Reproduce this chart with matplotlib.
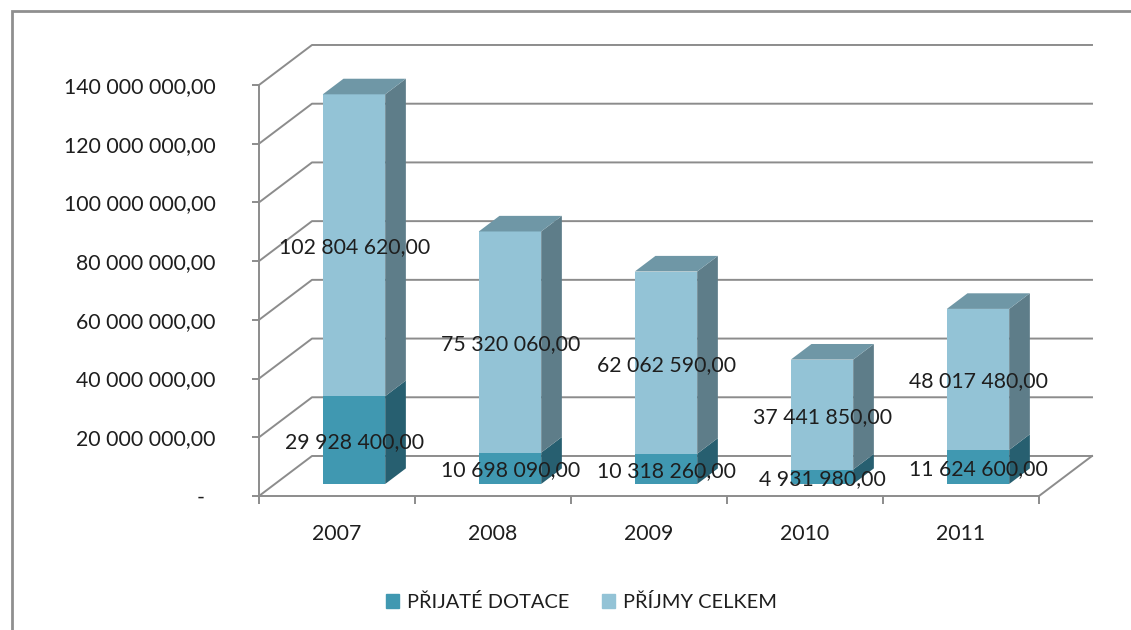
import matplotlib
matplotlib.use('Agg')
import matplotlib.pyplot as plt
from matplotlib.patches import Patch, Rectangle

plt.rcParams['font.family'] = ['Lato', 'DejaVu Sans']

years = ['2007', '2008', '2009', '2010', '2011']
dotace = [29928400, 10698090, 10318260, 4931980, 11624600]
prijmy = [102804620, 75320060, 62062590, 37441850, 48017480]
dotace_labels = ['29 928 400,00', '10 698 090,00', '10 318 260,00', '4 931 980,00', '11 624 600,00']
prijmy_labels = ['102 804 620,00', '75 320 060,00', '62 062 590,00', '37 441 850,00', '48 017 480,00']
yticks = [0, 20000000, 40000000, 60000000, 80000000, 100000000, 120000000, 140000000]
ytick_labels = ['-  ', '20 000 000,00', '40 000 000,00', '60 000 000,00', '80 000 000,00',
                '100 000 000,00', '120 000 000,00', '140 000 000,00']

W, H = 1131, 630
grid_col = '#8c8c8c'
text_col = '#1e1e1e'
fs = 15.3

# fake 3d: depth 0 = front plane, depth 1 = back wall
DX = 53 / 156.0       # categories per unit of depth
DY = 40 / 2.935e-6    # value per unit of depth
BAR_HALF = 0.2
D0, D1 = 0.3, 0.69


def proj(x, y, d):
    return x + d * DX, y + d * DY


def poly(ax, pts, color, z):
    xs = [p[0] for p in pts]
    ys = [p[1] for p in pts]
    ax.fill(xs, ys, color=color, lw=0, zorder=z, clip_on=False)


def box(ax, xc, y0, y1, front, side, top, z):
    xl, xr = xc - BAR_HALF, xc + BAR_HALF
    poly(ax, [proj(xr, y0, D0), proj(xr, y0, D1), proj(xr, y1, D1), proj(xr, y1, D0)], side, z)
    poly(ax, [proj(xl, y0, D0), proj(xr, y0, D0), proj(xr, y1, D0), proj(xl, y1, D0)], front, z)
    if top is not None:
        poly(ax, [proj(xl, y1, D0), proj(xr, y1, D0), proj(xr, y1, D1), proj(xl, y1, D1)], top, z)


def value_label(ax, x, y, s):
    ax.annotate(s, (x, y), xytext=(0.5, -1.5), textcoords='offset points', ha='center', va='center',
                fontsize=fs, color=text_col, zorder=5)


fig = plt.figure(figsize=(W / 100, H / 100), dpi=100, facecolor='white')
ax = fig.add_axes([259 / W, (H - 496) / H, 780 / W, 411 / H])
ax.set_xlim(0, len(years))
ax.set_ylim(0, 140000000)
ax.patch.set_visible(False)

# walls
for y in yticks:
    xb, yb = proj(0, y, 1)
    xe, ye = proj(len(years), y, 1)
    ax.plot([0, xb, xe], [y, yb, ye], color=grid_col, lw=1.4, zorder=1, clip_on=False)
xe, ye = proj(len(years), 0, 1)
ax.plot([len(years), xe], [0, ye], color=grid_col, lw=1.4, zorder=1, clip_on=False)

for i in range(len(years)):
    xc = i + 0.507
    box(ax, xc, 0, dotace[i], '#4098b1', '#275f70', None, 3)
    box(ax, xc, dotace[i], dotace[i] + prijmy[i], '#93c3d6', '#5e7d89', '#6f97a6', 3)
    lx, ly = proj(xc, dotace[i] / 2, D0)
    value_label(ax, lx, ly, dotace_labels[i])
    lx, ly = proj(xc, dotace[i] + prijmy[i] / 2, D0)
    value_label(ax, lx, ly, prijmy_labels[i])

# axes
for s in ['top', 'right']:
    ax.spines[s].set_visible(False)
for s in ['left', 'bottom']:
    ax.spines[s].set_color(grid_col)
    ax.spines[s].set_linewidth(1.4)
    ax.spines[s].set_zorder(2)
ax.set_yticks(yticks)
ax.set_yticklabels(ytick_labels, fontsize=fs, color=text_col)
ax.tick_params(axis='y', length=5, width=1.4, color=grid_col, pad=26)
ax.set_xticks(range(len(years) + 1))
ax.set_xticklabels([])
ax.tick_params(axis='x', which='major', length=6, width=1.4, color=grid_col)
ax.set_xticks([i + 0.5 for i in range(len(years))], minor=True)
ax.set_xticklabels(years, minor=True, fontsize=fs, color=text_col)
ax.tick_params(axis='x', which='minor', length=0, pad=20.5)

handles = [Patch(color='#4098b1', label='PŘIJATÉ DOTACE'), Patch(color='#93c3d6', label='PŘÍJMY CELKEM')]
fig.legend(handles=handles, loc='center', bbox_to_anchor=(581.5 / W, (H - 602) / H), ncols=2, frameon=False,
           fontsize=14.4, labelcolor=text_col, handlelength=0.66, handleheight=0.66, handletextpad=0.4,
           columnspacing=1.65)

# outer frame of the embedded chart
fig.add_artist(Rectangle((12 / W, -0.05), 1.2, 1.05 - 11 / H, transform=fig.transFigure,
                         fill=False, edgecolor='#8f8f8f', lw=2))

fig.savefig('out.png', dpi=100)
